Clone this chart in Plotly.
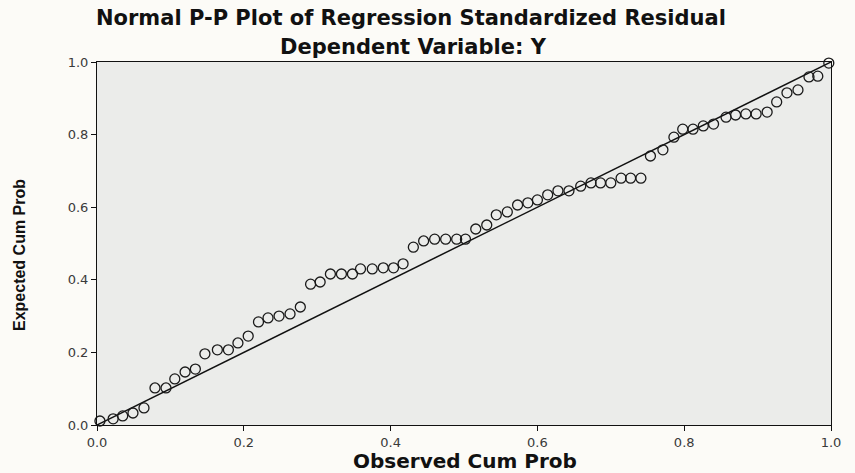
import plotly.graph_objects as go

# Observed cumulative probability (x) and expected cumulative probability (y)
observed_cum_prob = [
    0.004, 0.022, 0.035, 0.049, 0.064, 0.079, 0.094, 0.106, 0.120, 0.134,
    0.147, 0.164, 0.179, 0.192, 0.206, 0.220, 0.233, 0.248, 0.263, 0.277,
    0.291, 0.304, 0.318, 0.333, 0.348, 0.359, 0.375, 0.390, 0.404, 0.417,
    0.431, 0.445, 0.460, 0.475, 0.490, 0.502, 0.516, 0.531, 0.544, 0.559,
    0.573, 0.587, 0.600, 0.614, 0.628, 0.643, 0.659, 0.673, 0.686, 0.700,
    0.714, 0.727, 0.741, 0.754, 0.771, 0.786, 0.798, 0.812, 0.826, 0.840,
    0.857, 0.870, 0.884, 0.898, 0.913, 0.926, 0.940, 0.955, 0.970, 0.982,
    0.997,
]
expected_cum_prob = [
    0.011, 0.017, 0.025, 0.033, 0.047, 0.102, 0.102, 0.127, 0.146, 0.154,
    0.196, 0.207, 0.207, 0.226, 0.245, 0.284, 0.295, 0.300, 0.306, 0.325,
    0.388, 0.394, 0.416, 0.416, 0.416, 0.430, 0.430, 0.433, 0.433, 0.444,
    0.490, 0.507, 0.512, 0.512, 0.512, 0.512, 0.540, 0.551, 0.579, 0.587,
    0.606, 0.612, 0.620, 0.634, 0.645, 0.645, 0.658, 0.667, 0.667, 0.667,
    0.680, 0.680, 0.680, 0.741, 0.758, 0.793, 0.815, 0.815, 0.824, 0.829,
    0.848, 0.854, 0.857, 0.857, 0.862, 0.890, 0.915, 0.923, 0.959, 0.961,
    0.997,
]
reference_line_x = [0.0, 1.0]
reference_line_y = [0.0, 1.0]
tick_values = [0.0, 0.2, 0.4, 0.6, 0.8, 1.0]

title_text = "Normal P-P Plot of Regression Standardized Residual"
subtitle_text = "Dependent Variable: Y"
x_title = "Observed Cum Prob"
y_title = "Expected Cum Prob"

W, H = 855, 473
L, R, T, B = 97, 24, 62, 48
pw, ph = W - L - R, H - T - B

def px_x(p):
    return (p - L) / pw

def px_y(p):
    return (H - B - p) / ph

fig = go.Figure()
fig.add_trace(go.Scatter(
    x=reference_line_x, y=reference_line_y, mode="lines",
    line=dict(color="#111111", width=1.5), hoverinfo="skip", showlegend=False,
))
fig.add_trace(go.Scatter(
    x=observed_cum_prob, y=expected_cum_prob, mode="markers",
    marker=dict(symbol="circle-open", size=10, color="#1a1a1a",
                line=dict(width=1.3, color="#1a1a1a")),
    cliponaxis=False, showlegend=False,
))

axis_common = dict(
    range=[0, 1], tickvals=tick_values, tickformat=".1f",
    showgrid=False, zeroline=False, showline=True, mirror=True,
    linecolor="#111111", linewidth=1,
    ticks="outside", ticklen=5, tickcolor="#111111", tickwidth=1,
    tickfont=dict(family="DejaVu Sans, Arial, sans-serif", size=13, color="#3a3a3a"),
)
fig.update_xaxes(**axis_common)
fig.update_yaxes(**axis_common)

annotations = [
    dict(text=f"<b>{title_text}</b>", x=px_x(411), y=px_y(18), xref="paper", yref="paper",
         xanchor="center", yanchor="middle", showarrow=False,
         font=dict(family="DejaVu Sans, Arial, sans-serif", size=21, color="#111111")),
    dict(text=f"<b>{subtitle_text}</b>", x=px_x(413), y=px_y(47), xref="paper", yref="paper",
         xanchor="center", yanchor="middle", showarrow=False,
         font=dict(family="DejaVu Sans, Arial, sans-serif", size=21, color="#111111")),
    dict(text=f"<b>{x_title}</b>", x=px_x(465), y=px_y(461), xref="paper", yref="paper",
         xanchor="center", yanchor="middle", showarrow=False,
         font=dict(family="DejaVu Sans, Arial, sans-serif", size=20, color="#111111")),
    dict(text=f"<b>{y_title}</b>", x=px_x(20), y=px_y(255), xref="paper", yref="paper",
         xanchor="center", yanchor="middle", showarrow=False, textangle=-90,
         font=dict(family="Liberation Sans, Arial, sans-serif", size=16, color="#111111")),
]

fig.update_layout(
    width=W, height=H,
    margin=dict(l=L, r=R, t=T, b=B, pad=0),
    plot_bgcolor="#EBECEA", paper_bgcolor="#FCFBF7",
    annotations=annotations,
    showlegend=False,
)

fig.write_html("out.html", config={"displayModeBar": False},
               post_script="document.body.style.margin='0';document.body.style.padding='0';")
